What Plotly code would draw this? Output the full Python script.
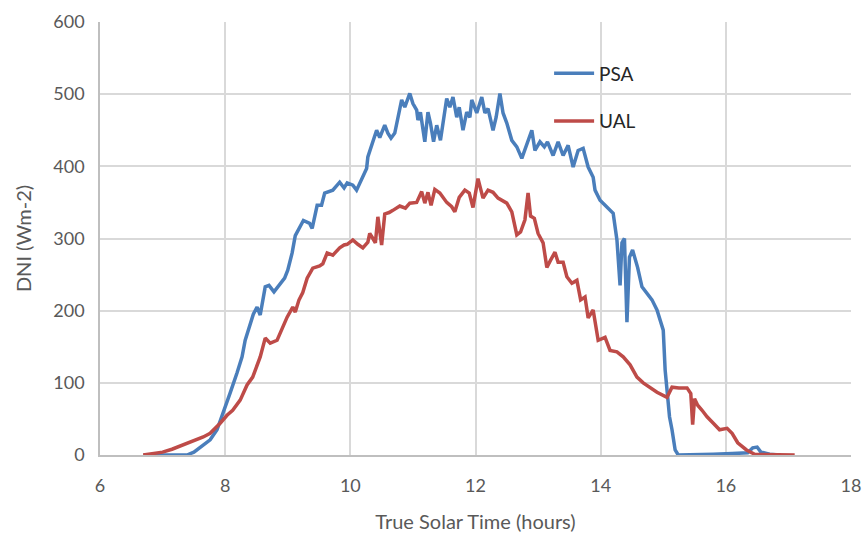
import plotly.graph_objects as go

psa_t = [6.70, 6.90, 7.10, 7.39, 7.50, 7.60, 7.76, 7.87, 7.97, 8.08, 8.19, 8.27, 8.32, 8.40, 8.45,
         8.51, 8.56, 8.64, 8.70, 8.78, 8.88, 8.95, 9.00, 9.07, 9.12, 9.18, 9.25, 9.35, 9.39, 9.47,
         9.54, 9.59, 9.67, 9.72, 9.83, 9.90, 9.95, 10.04, 10.10, 10.18, 10.26, 10.28, 10.35, 10.42,
         10.47, 10.55, 10.60, 10.65, 10.71, 10.76, 10.82, 10.87, 10.95, 11.00, 11.06, 11.08, 11.12,
         11.19, 11.24, 11.28, 11.33, 11.38, 11.44, 11.54, 11.59, 11.64, 11.70, 11.74, 11.80, 11.86,
         11.91, 11.94, 11.98, 12.02, 12.10, 12.15, 12.20, 12.28, 12.33, 12.39, 12.44, 12.50, 12.58,
         12.66, 12.74, 12.82, 12.90, 12.95, 13.03, 13.10, 13.15, 13.24, 13.32, 13.40, 13.48, 13.56,
         13.64, 13.72, 13.80, 13.88, 13.91, 13.99, 14.10, 14.20, 14.26, 14.31, 14.34, 14.38, 14.42,
         14.46, 14.51, 14.59, 14.66, 14.74, 14.82, 14.90, 14.95, 15.00, 15.03, 15.07, 15.10, 15.14,
         15.19, 15.24, 15.50, 15.80, 16.10, 16.35, 16.43, 16.50, 16.56, 16.70, 16.85]
psa_v = [0, 0, 0, 0, 4, 10, 21, 35, 58, 86, 114, 136, 159, 183, 195,
         205, 194, 233, 235, 226, 238, 245, 256, 280, 304, 315, 325, 321, 314, 346,
         346, 363, 365, 367, 378, 370, 377, 374, 367, 381, 397, 413, 430, 450,
         440, 457, 446, 439, 446, 467, 492, 482, 501, 487, 478, 464, 475,
         434, 475, 460, 434, 457, 436, 494, 482, 496, 468, 482, 450, 475,
         468, 492, 482, 474, 496, 474, 480, 450, 468, 501, 474, 460, 436,
         427, 411, 432, 450, 422, 434, 427, 434, 415, 434, 415, 429, 399,
         422, 425, 399, 385, 367, 353, 343, 335, 298, 235, 294, 300, 184,
         274, 284, 260, 233, 224, 215, 201, 187, 173, 118, 80, 53, 35,
         7, 0, 1, 1, 2, 3, 10, 11, 4, 1, 0]

ual_t = [6.69, 6.85, 7.00, 7.15, 7.33, 7.45, 7.55, 7.65, 7.76, 7.85, 7.92, 8.03, 8.12, 8.24, 8.35,
         8.44, 8.56, 8.64, 8.72, 8.83, 8.92, 8.99, 9.08, 9.12, 9.18, 9.24, 9.31, 9.35, 9.40, 9.51,
         9.56, 9.63, 9.72, 9.83, 9.90, 9.95, 10.04, 10.12, 10.20, 10.28, 10.31, 10.36, 10.40, 10.44,
         10.50, 10.55, 10.62, 10.68, 10.79, 10.88, 10.95, 11.06, 11.14, 11.19, 11.24, 11.29, 11.35,
         11.43, 11.54, 11.62, 11.67, 11.74, 11.83, 11.90, 11.96, 12.04, 12.12, 12.20, 12.28, 12.36,
         12.50, 12.58, 12.66, 12.72, 12.79, 12.84, 12.88, 12.94, 13.00, 13.08, 13.14, 13.20, 13.27,
         13.32, 13.40, 13.46, 13.54, 13.62, 13.68, 13.75, 13.80, 13.88, 13.96, 14.07, 14.15, 14.26,
         14.36, 14.47, 14.58, 14.68, 14.79, 14.90, 15.06, 15.14, 15.25, 15.38, 15.44, 15.47, 15.50,
         15.55, 15.62, 15.70, 15.80, 15.90, 16.02, 16.10, 16.19, 16.33, 16.46, 16.75, 17.10]
ual_v = [0, 2, 4, 8, 14, 18, 21, 25, 30, 37, 44, 55, 62, 76, 97,
         108, 136, 162, 155, 159, 177, 191, 205, 198, 215, 225, 245, 252, 259, 262,
         265, 280, 277, 287, 291, 292, 298, 292, 287, 295, 307, 300, 294, 330,
         291, 334, 336, 339, 345, 342, 349, 350, 365, 349, 364, 346, 368,
         363, 350, 344, 337, 357, 367, 363, 343, 383, 356, 367, 364, 356,
         349, 337, 305, 309, 326, 363, 331, 328, 307, 294, 260, 270, 281,
         267, 267, 247, 238, 242, 215, 219, 190, 201, 159, 163, 145, 143,
         136, 125, 108, 100, 93, 87, 80, 94, 93, 93, 85, 42, 78,
         69, 62, 53, 44, 35, 37, 30, 17, 7, 1, 1, 0]

x_ticks = [6, 8, 10, 12, 14, 16, 18]
y_ticks = [0, 100, 200, 300, 400, 500, 600]

FONT = "Lato, 'Open Sans', sans-serif"
TICK_COLOR = "#595959"

fig = go.Figure()
fig.add_trace(go.Scatter(x=psa_t, y=psa_v, mode="lines", name="PSA", legendgroup="a",
                         line=dict(color="#4A7EBB", width=3.5)))
fig.add_trace(go.Scatter(x=ual_t, y=ual_v, mode="lines", name="UAL", legendgroup="b",
                         line=dict(color="#BE4B48", width=3.5)))

fig.update_layout(
    width=868, height=536,
    margin=dict(l=100, r=17, t=22, b=81),
    paper_bgcolor="white", plot_bgcolor="white",
    font=dict(family=FONT, color=TICK_COLOR, size=18),
    legend=dict(x=0.598, y=0.925, xanchor="left", yanchor="top",
                font=dict(size=19, color="#262626", family=FONT),
                bgcolor="rgba(0,0,0,0)", tracegroupgap=20, itemwidth=40),
    showlegend=True,
)
fig.update_xaxes(range=[6, 18], tickvals=x_ticks, ticktext=[str(v) for v in x_ticks],
                 showgrid=True, gridcolor="#D9D9D9", gridwidth=1.5,
                 showline=True, linecolor="#BFBFBF", linewidth=1.5, zeroline=False,
                 ticks="", ticklabelstandoff=14, automargin=False,
                 title=dict(text="True Solar Time (hours)", font=dict(size=20, color=TICK_COLOR),
                            standoff=20),
                 tickfont=dict(size=18, color=TICK_COLOR))
fig.update_yaxes(range=[0, 600], tickvals=y_ticks, ticktext=[str(v) for v in y_ticks],
                 showgrid=True, gridcolor="#D9D9D9", gridwidth=1.5,
                 showline=True, linecolor="#BFBFBF", linewidth=1.5, zeroline=False,
                 ticks="", ticklabelstandoff=10, automargin=False,
                 title=dict(text="DNI (Wm-2)", font=dict(size=20, color=TICK_COLOR), standoff=16),
                 tickfont=dict(size=18, color=TICK_COLOR))

fig.write_html("out.html")
